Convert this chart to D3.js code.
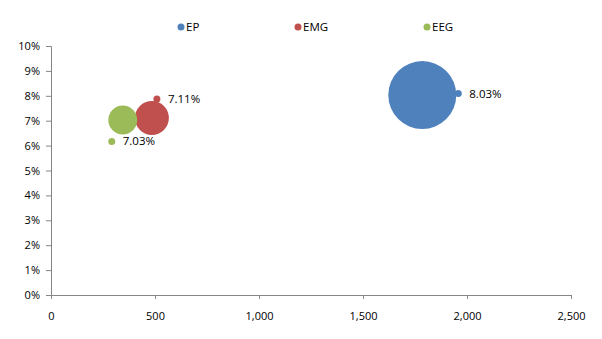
<!DOCTYPE html>
<html><head><meta charset="utf-8">
<script src="https://cdn.jsdelivr.net/npm/d3@7"></script>
<style>body{margin:0;background:#fff;}svg{display:block;font-family:"Open Sans","DejaVu Sans",sans-serif;}</style>
</head><body>
<svg id="c" width="602" height="339"></svg>
<script>
const series = ["EP", "EMG", "EEG"];
const xValues = [1785, 485, 345];
const yValues = [0.0803, 0.0711, 0.0703];
const sizes = [100, 25, 18];
const labels = ["8.03%", "7.11%", "7.03%"];
const colors = ["#4F81BD", "#C0504D", "#9BBB59"];
const xTicks = [0, 500, 1000, 1500, 2000, 2500];
const yTicks = [0, 0.01, 0.02, 0.03, 0.04, 0.05, 0.06, 0.07, 0.08, 0.09, 0.10];

const svg = d3.select("#c");
const x = d3.scaleLinear().domain([0, 2500]).range([51, 571]);
const y = d3.scaleLinear().domain([0, 0.10]).range([295, 46]);
const r = d3.scaleSqrt().domain([0, 100]).range([0, 34]);

// axes
const xAxis = d3.axisBottom(x).tickValues(xTicks).tickSize(4).tickPadding(13)
  .tickFormat(d3.format(",d"));
const gx = svg.append("g").attr("transform", "translate(0,295)").call(xAxis);
const yAxis = d3.axisLeft(y).tickValues(yTicks).tickSize(5).tickPadding(6)
  .tickFormat(d3.format(".0%"));
const gy = svg.append("g").attr("transform", "translate(51,0)").call(yAxis);
[gx, gy].forEach(g => {
  g.select(".domain").attr("stroke", "#868686").attr("stroke-width", 1);
  g.selectAll(".tick line").attr("stroke", "#868686");
  g.selectAll(".tick text").attr("fill", "#000").style("font-size", "11px")
    .style("font-family", "'Open Sans','DejaVu Sans',sans-serif");
});

// bubbles (draw largest first)
const data = series.map((s, i) => ({s, x: xValues[i], y: yValues[i], size: sizes[i], label: labels[i], color: colors[i]}));
svg.append("g").selectAll("circle").data(data).join("circle")
  .attr("cx", d => x(d.x)).attr("cy", d => y(d.y)).attr("r", d => r(d.size))
  .attr("fill", d => d.color);

// data labels with legend key markers (offsets relative to bubble)
const labelOffsets = {EP: [36, -1.5], EMG: [5, -19], EEG: [-11, 21.5]};
const lab = svg.append("g").selectAll("g").data(data).join("g")
  .attr("transform", d => `translate(${x(d.x) + labelOffsets[d.s][0]},${y(d.y) + labelOffsets[d.s][1]})`);
lab.append("circle").attr("r", 3.5).attr("fill", d => d.color);
lab.append("text").attr("x", 11).attr("dy", "0.35em").style("font-size", "11.5px")
  .attr("fill", "#000").text(d => d.label);

// legend
const legX = [181, 298, 427];
const leg = svg.append("g").selectAll("g").data(data).join("g")
  .attr("transform", (d, i) => `translate(${legX[i]},27)`);
leg.append("circle").attr("r", 3.5).attr("fill", d => d.color);
leg.append("text").attr("x", 5).attr("dy", "0.35em").style("font-size", "11.5px")
  .attr("fill", "#000").text(d => d.s);
</script>
</body></html>
